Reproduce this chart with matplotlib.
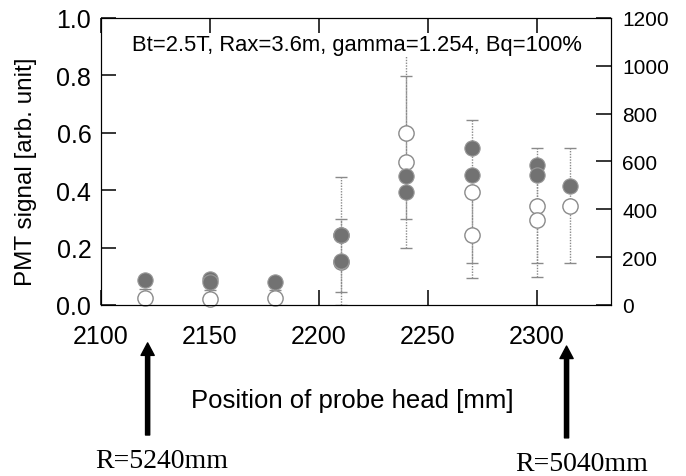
import matplotlib
matplotlib.use('Agg')
import matplotlib.pyplot as plt

plt.rcParams['font.family'] = ['Liberation Sans', 'DejaVu Sans']

# filled (gray) points
fill_x = [2120, 2150, 2150, 2180, 2210, 2210, 2240, 2240, 2270, 2270, 2300, 2300, 2315]
fill_y = [0.088, 0.09, 0.08, 0.08, 0.244, 0.154, 0.448, 0.395, 0.547, 0.453, 0.489, 0.453, 0.416]

# open points with error bars
open_x = [2120, 2150, 2180, 2210, 2210, 2240, 2240, 2270, 2270, 2300, 2300, 2315]
open_y = [0.024, 0.021, 0.024, 0.15, 0.245, 0.598, 0.497, 0.395, 0.244, 0.346, 0.296, 0.346]
open_err = [0.033, 0.03, 0.027, 0.15, 0.2, 0.3, 0.3, 0.25, 0.15, 0.2, 0.2, 0.2]

xticks = [2100, 2150, 2200, 2250, 2300]
yticks = [0.0, 0.2, 0.4, 0.6, 0.8, 1.0]
y2ticks = [0, 200, 400, 600, 800, 1000, 1200]

fig = plt.figure(figsize=(6.86, 4.77), dpi=100)
ax = fig.add_axes([0.1472, 0.3585, 0.7435, 0.6017])

eb = ax.errorbar(open_x, open_y, yerr=open_err, fmt='none', ecolor='#8a8a8a',
                 elinewidth=1.0, capsize=4, capthick=1.0, zorder=2)
eb[2][0].set_linestyle((0, (1, 1)))

ax.plot(open_x, open_y, 'o', ms=11, mfc='white', mec='#8a8a8a', mew=1.0,
        zorder=3, clip_on=False)
ax.plot(fill_x, fill_y, 'o', ms=11, mfc='#727272', mec='#999999', mew=0.8,
        zorder=4, clip_on=False)

ax.set_xlim(2100, 2334)
ax.set_ylim(0, 1.0)
ax.set_xticks(xticks)
ax.set_yticks(yticks)
ax.set_yticklabels(['%.1f' % v for v in yticks])
ax.tick_params(direction='in', length=11, width=1.1, labelsize=18, top=True)
ax.tick_params(axis='y', pad=7)
ax.tick_params(axis='x', pad=14)

ax2 = ax.twinx()
ax2.set_ylim(0, 1200)
ax2.set_yticks(y2ticks)
ax2.tick_params(direction='in', length=11, width=1.1, labelsize=15, pad=8)

ax.set_xlabel('Position of probe head [mm]', fontsize=18.5)
ax.xaxis.label.set_va('center')
ax.xaxis.set_label_coords(0.492, -0.331)
ax.set_ylabel('PMT signal [arb. unit]', fontsize=17.5)
ax.yaxis.label.set_va('center')
ax.yaxis.set_label_coords(-0.147, 0.467)

ax.text(0.501, 0.906, 'Bt=2.5T, Rax=3.6m, gamma=1.254, Bq=100%', transform=ax.transAxes,
        ha='center', va='center', fontsize=15.8, zorder=5,
        bbox=dict(facecolor='white', edgecolor='none', pad=1))

tr = ax.get_xaxis_transform()
ax.annotate('', xy=(2121.4, -0.132), xytext=(2121.4, -0.453), xycoords=tr, textcoords=tr,
            arrowprops=dict(width=3, headwidth=9.5, headlength=9, facecolor='black',
                            edgecolor='black', shrink=0), annotation_clip=False)
ax.annotate('', xy=(2313.6, -0.143), xytext=(2313.6, -0.463), xycoords=tr, textcoords=tr,
            arrowprops=dict(width=3, headwidth=9.5, headlength=9, facecolor='black',
                            edgecolor='black', shrink=0), annotation_clip=False)
ax.text(2128, -0.542, 'R=5240mm', transform=tr, ha='center', va='center',
        family='Liberation Serif', fontsize=20)
ax.text(2320.4, -0.553, 'R=5040mm', transform=tr, ha='center', va='center',
        family='Liberation Serif', fontsize=20)

fig.savefig('out.png', dpi=100)
